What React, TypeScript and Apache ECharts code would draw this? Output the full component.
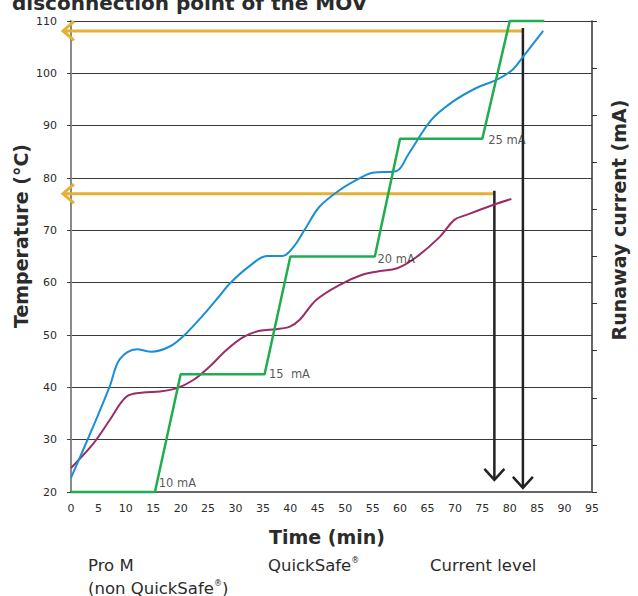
import React, { useEffect, useRef } from "react";
import * as echarts from "echarts";

const timeTicks = { min: 0, max: 95, interval: 5 };
const tempTicks = { min: 20, max: 110, interval: 10 };
const currentTicks = { min: 10, max: 30, interval: 2 };

// QuickSafe (blue)
const quickSafeMin = [0, 4, 7.1, 8.9, 12, 14.7, 18, 20.7, 24.1, 27.1, 29, 32.6, 35.7, 38.6, 40.4, 42.6, 45.3, 49, 53.1, 55, 59.3, 61.5, 65.7, 69.5, 73.9, 77.5, 80.4, 82.3, 86.1];
const quickSafeTemp = [22.7, 32.4, 40.3, 45.4, 47.3, 46.8, 47.8, 50, 53.8, 57.5, 59.9, 63.2, 65.1, 65.1, 66.6, 70.1, 74.5, 77.7, 80.2, 81, 81.3, 84.5, 91.1, 94.5, 97.2, 98.7, 100.6, 103, 108.1];

// Pro M non QuickSafe (purple)
const proMMin = [0, 4.1, 7.1, 10.1, 13.2, 16.2, 19.2, 22.3, 25.3, 28.3, 31.4, 34.4, 37.4, 39.9, 41.7, 44.7, 49, 53.1, 55.7, 59.6, 63, 67.2, 69.9, 72, 76.8, 80.3];
const proMTemp = [24.6, 29.3, 33.8, 38.2, 39, 39.2, 39.8, 41.4, 44, 47.1, 49.6, 50.8, 51.1, 51.6, 52.9, 56.7, 59.6, 61.5, 62.1, 62.8, 64.9, 68.7, 72, 72.9, 74.8, 76];

// Current level (green), in mA
const currentMin = [0, 15.3, 20, 35.3, 40, 55.4, 60, 75, 80, 86.3];
const currentMA = [10, 10, 15, 15, 20, 20, 25, 25, 30, 30];

// current level labels
const currentLabels = ["10 mA", "15  mA", "20 mA", "25 mA", "30 mA"];
const currentLabelMin = [15.9, 36.0, 55.8, 76.0, 86.6];
const currentLabelMA = [10.38, 15, 19.9, 24.95, 30.38];

// disconnection arrows: [minute, disconnection temperature, arrow tip temperature]
const arrowMin = [82.4, 77.2];
const arrowTemp = [108.1, 77];
const arrowTipTemp = [20.8, 22.3];

const BLUE = "#1a8fd4";
const PURPLE = "#9a2c66";
const GREEN = "#1fad4f";
const YELLOW = "#e3b134";
const BLACK = "#222222";
const TXT = "#2b2b2b";
const FONT = "DejaVu Sans";

export default function App() {
  const ref = useRef<HTMLDivElement>(null);
  useEffect(() => {
    if (!ref.current) return;
    const chart = echarts.init(ref.current, undefined, { renderer: "svg" });
    const arrowData = arrowMin.map((m, i) => [m, arrowTemp[i], arrowTipTemp[i]]);
    const sup = { fontSize: 8, fontFamily: FONT, fill: TXT, verticalAlign: "top", padding: [0, 0, 8, 0] };
    chart.setOption({
      animation: false,
      textStyle: { fontFamily: FONT },
      grid: { left: 71, right: 46, top: 21, bottom: 104 },
      xAxis: {
        type: "value",
        min: timeTicks.min,
        max: timeTicks.max,
        interval: timeTicks.interval,
        axisLine: { show: true, lineStyle: { color: "#666", width: 2 } },
        axisTick: { show: false },
        splitLine: { show: false },
        axisLabel: { color: TXT, fontSize: 11, margin: 11, fontFamily: FONT },
      },
      yAxis: [
        {
          type: "value",
          min: tempTicks.min,
          max: tempTicks.max,
          interval: tempTicks.interval,
          axisLine: { show: true, lineStyle: { color: "#8a8a8a", width: 2 } },
          axisTick: { show: true, length: 4, lineStyle: { color: "#444" } },
          splitLine: { show: true, lineStyle: { color: "#3a3a3a", width: 1 } },
          axisLabel: { color: TXT, fontSize: 11, margin: 14, fontFamily: FONT },
        },
        {
          type: "value",
          position: "right",
          min: currentTicks.min,
          max: currentTicks.max,
          interval: currentTicks.interval,
          axisLine: { show: true, lineStyle: { color: "#333", width: 1.5 } },
          axisTick: { show: true, length: 5, inside: false, lineStyle: { color: "#333" } },
          splitLine: { show: false },
          axisLabel: { show: false },
        },
      ],
      series: [
        {
          type: "custom",
          name: "arrows",
          xAxisIndex: 0,
          yAxisIndex: 0,
          clip: false,
          z: 1,
          encode: { x: 0, y: [1, 2] },
          data: arrowData,
          renderItem: (params: any, api: any) => {
            const top = api.coord([api.value(0), api.value(1)]);
            const tip = api.coord([api.value(0), api.value(2)]);
            const left = api.coord([0, api.value(1)]);
            const lx = left[0] - 8;
            return {
              type: "group",
              children: [
                {
                  type: "line",
                  shape: { x1: lx + 1, y1: top[1], x2: top[0], y2: top[1] },
                  style: { stroke: YELLOW, lineWidth: 3 },
                },
                {
                  type: "polyline",
                  shape: { points: [[lx + 11, top[1] - 9.5], [lx, top[1]], [lx + 11, top[1] + 9.5]] },
                  style: { stroke: YELLOW, lineWidth: 3, fill: null },
                },
                {
                  type: "line",
                  shape: { x1: top[0], y1: top[1] - 3, x2: tip[0], y2: tip[1] },
                  style: { stroke: BLACK, lineWidth: 2.5 },
                },
                {
                  type: "polyline",
                  shape: { points: [[tip[0] - 10, tip[1] - 11], [tip[0], tip[1]], [tip[0] + 10, tip[1] - 11]] },
                  style: { stroke: BLACK, lineWidth: 2.5, fill: null },
                },
              ],
            };
          },
        },
        {
          type: "line",
          name: "Pro M",
          yAxisIndex: 0,
          data: proMMin.map((m, i) => [m, proMTemp[i]]),
          smooth: 0.35,
          showSymbol: false,
          z: 3,
          lineStyle: { color: PURPLE, width: 2 },
        },
        {
          type: "line",
          name: "QuickSafe",
          yAxisIndex: 0,
          data: quickSafeMin.map((m, i) => [m, quickSafeTemp[i]]),
          smooth: 0.35,
          showSymbol: false,
          z: 3,
          lineStyle: { color: BLUE, width: 2 },
        },
        {
          type: "line",
          name: "Current level",
          yAxisIndex: 1,
          data: currentMin.map((m, i) => [m, currentMA[i]]),
          showSymbol: false,
          clip: false,
          z: 4,
          lineStyle: { color: GREEN, width: 2.5 },
        },
        {
          type: "scatter",
          name: "labels",
          yAxisIndex: 1,
          symbolSize: 1,
          itemStyle: { color: "rgba(0,0,0,0)" },
          z: 5,
          data: currentLabelMin.map((m, i) => ({ value: [m, currentLabelMA[i]], name: currentLabels[i] })),
          label: {
            show: true,
            position: "right",
            distance: 0,
            formatter: (p: any) => p.name,
            color: TXT,
            fontSize: 11.5,
            fontFamily: FONT,
          },
        },
      ],
      graphic: [
        {
          type: "text",
          x: 12,
          y: 2.5,
          style: { text: "disconnection point of the MOV", font: `bold 20px "${FONT}"`, fill: TXT, verticalAlign: "middle" },
        },
        {
          type: "text",
          x: 21,
          y: 236,
          rotation: Math.PI / 2,
          style: { text: "Temperature (°C)", font: `bold 19px "${FONT}"`, fill: TXT, align: "center", verticalAlign: "middle" },
        },
        {
          type: "text",
          x: 619,
          y: 220,
          rotation: Math.PI / 2,
          style: { text: "Runaway current (mA)", font: `bold 19px "${FONT}"`, fill: TXT, align: "center", verticalAlign: "middle" },
        },
        {
          type: "text",
          x: 327,
          y: 537,
          style: { text: "Time (min)", font: `bold 19px "${FONT}"`, fill: TXT, align: "center", verticalAlign: "middle" },
        },
        {
          type: "text",
          x: 88,
          y: 565,
          style: { text: "Pro M", font: `16.5px "${FONT}"`, fill: TXT, verticalAlign: "middle" },
        },
        {
          type: "text",
          x: 88,
          y: 588,
          style: {
            text: "(non QuickSafe{s|®})",
            font: `16.5px "${FONT}"`,
            fill: TXT,
            verticalAlign: "middle",
            rich: { s: sup },
          },
        },
        {
          type: "text",
          x: 268,
          y: 565,
          style: {
            text: "QuickSafe{s|®}",
            font: `16.5px "${FONT}"`,
            fill: TXT,
            verticalAlign: "middle",
            rich: { s: sup },
          },
        },
        {
          type: "text",
          x: 430,
          y: 565,
          style: { text: "Current level", font: `16.5px "${FONT}"`, fill: TXT, verticalAlign: "middle" },
        },
      ],
    });
    return () => chart.dispose();
  }, []);
  return <div ref={ref} style={{ width: 638, height: 596, position: "absolute", left: 0, top: 0 }} />;
}
